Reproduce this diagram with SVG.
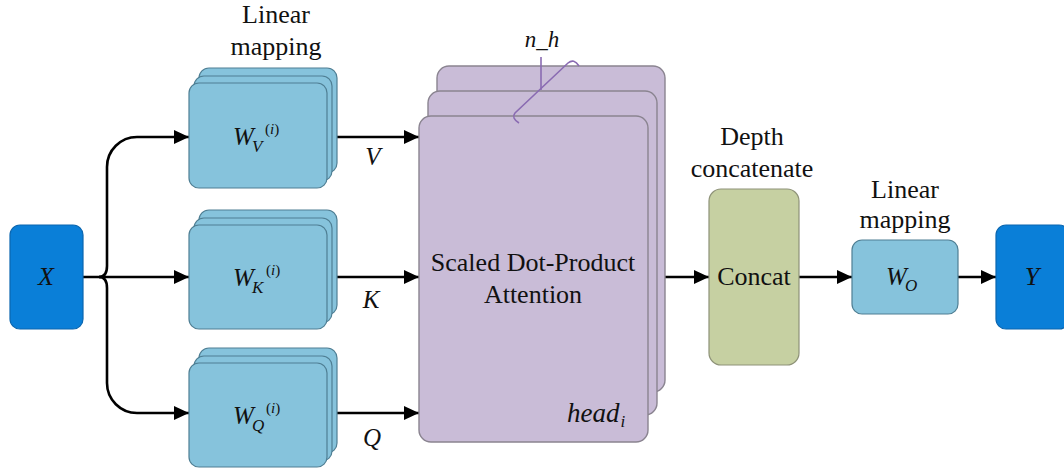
<svg xmlns="http://www.w3.org/2000/svg" width="1064" height="473" viewBox="0 0 1064 473" font-family="Liberation Serif, Times New Roman, DejaVu Serif, serif">
<style>
text{fill:#111;}
.it{font-style:italic;}
.lb{fill:#86c3dc;stroke:#4f7f94;stroke-width:1.2;}
.db{fill:#0a7fd8;stroke:#0a66b0;stroke-width:1.2;}
.pu{fill:#c9bcd7;stroke:#8a8490;stroke-width:1.4;}
.cc{fill:#c6d0a2;stroke:#8e9278;stroke-width:1.2;}
.ln{fill:none;stroke:#000;stroke-width:2.6;}
</style>
<defs>
<marker id="ah" markerUnits="userSpaceOnUse" markerWidth="16" markerHeight="14" refX="15" refY="7" orient="auto">
<path d="M0,0 L15,7 L0,14 z" fill="#000"/>
</marker>
</defs>

<g id="connectors">
<path class="ln" d="M83,277 H99 Q107,277 107,266 V167 A30,30 0 0 1 137,137 H189" marker-end="url(#ah)"/>
<path class="ln" d="M99,277 H189" marker-end="url(#ah)"/>
<path class="ln" d="M99,277 Q107,277 107,288 V383 A30,30 0 0 0 137,413 H189" marker-end="url(#ah)"/>
<path class="ln" d="M327,137 H419" marker-end="url(#ah)"/>
<path class="ln" d="M327,277 H419" marker-end="url(#ah)"/>
<path class="ln" d="M327,413 H419" marker-end="url(#ah)"/>
<path class="ln" d="M648,277 H709" marker-end="url(#ah)"/>
<path class="ln" d="M799,277 H852" marker-end="url(#ah)"/>
<path class="ln" d="M958,277 H996" marker-end="url(#ah)"/>
<text class="it" x="373" y="165" font-size="25" text-anchor="middle">V</text>
<text class="it" x="371" y="308" font-size="25" text-anchor="middle">K</text>
<text class="it" x="372" y="446" font-size="25" text-anchor="middle">Q</text>
</g>

<g id="X">
<rect class="db" x="10" y="225" width="73" height="104" rx="10"/>
<text class="it" x="46" y="285" font-size="26" text-anchor="middle">X</text>
</g>

<g id="WV">
<text x="276" y="23" font-size="26" text-anchor="middle">Linear</text>
<text x="276" y="55" font-size="26" text-anchor="middle">mapping</text>
<rect class="lb" x="199" y="68" width="138" height="105" rx="10"/>
<rect class="lb" x="194" y="76" width="138" height="105" rx="10"/>
<rect class="lb" x="189" y="83" width="138" height="105" rx="10"/>
<text class="it" x="233" y="145" font-size="25">W</text>
<text class="it" x="252" y="152" font-size="17">V</text>
<text x="265" y="134" font-size="15">(<tspan font-style="italic">i</tspan>)</text>
</g>

<g id="WK">
<rect class="lb" x="199" y="210" width="138" height="105" rx="10"/>
<rect class="lb" x="194" y="218" width="138" height="105" rx="10"/>
<rect class="lb" x="189" y="225" width="138" height="104" rx="10"/>
<text class="it" x="233" y="286" font-size="25">W</text>
<text class="it" x="252" y="293" font-size="17">K</text>
<text x="266" y="275" font-size="15">(<tspan font-style="italic">i</tspan>)</text>
</g>

<g id="WQ">
<rect class="lb" x="199" y="348" width="138" height="105" rx="10"/>
<rect class="lb" x="194" y="356" width="138" height="105" rx="10"/>
<rect class="lb" x="189" y="363" width="138" height="104" rx="10"/>
<text class="it" x="233" y="424" font-size="25">W</text>
<text class="it" x="252" y="431" font-size="17">Q</text>
<text x="266" y="413" font-size="15">(<tspan font-style="italic">i</tspan>)</text>
</g>

<g id="attention">
<rect class="pu" x="437" y="66" width="228" height="326" rx="12"/>
<rect class="pu" x="428" y="91" width="229" height="324" rx="12"/>
<rect class="pu" x="419" y="116" width="229" height="326" rx="12"/>
<text x="533" y="271" font-size="26" text-anchor="middle">Scaled Dot-Product</text>
<text x="533" y="303" font-size="26" text-anchor="middle">Attention</text>
<text class="it" x="567" y="422" font-size="27">head<tspan font-size="17" dy="5" dx="1">i</tspan></text>
<g fill="none" stroke="#8a6bb2" stroke-width="1.6">
<path d="M541,57 V90"/>
<path d="M519,123 Q511,118 515,113 L568,63 Q574,58 579,66"/>
</g>
<text class="it" x="542" y="47" font-size="23" text-anchor="middle">n_h</text>
</g>

<g id="concat">
<text x="752" y="145" font-size="26" text-anchor="middle">Depth</text>
<text x="752" y="177" font-size="26" text-anchor="middle">concatenate</text>
<rect class="cc" x="709" y="189" width="90" height="176" rx="12"/>
<text x="754" y="285" font-size="26" text-anchor="middle">Concat</text>
</g>

<g id="WO">
<text x="905" y="198" font-size="26" text-anchor="middle">Linear</text>
<text x="905" y="228" font-size="26" text-anchor="middle">mapping</text>
<rect class="lb" x="852" y="240" width="106" height="74" rx="10"/>
<text class="it" x="886" y="285" font-size="25">W</text>
<text class="it" x="905" y="291" font-size="17">O</text>
</g>

<g id="Y">
<rect class="db" x="996" y="225" width="73" height="104" rx="10"/>
<text class="it" x="1032" y="285" font-size="26" text-anchor="middle">Y</text>
</g>
</svg>
